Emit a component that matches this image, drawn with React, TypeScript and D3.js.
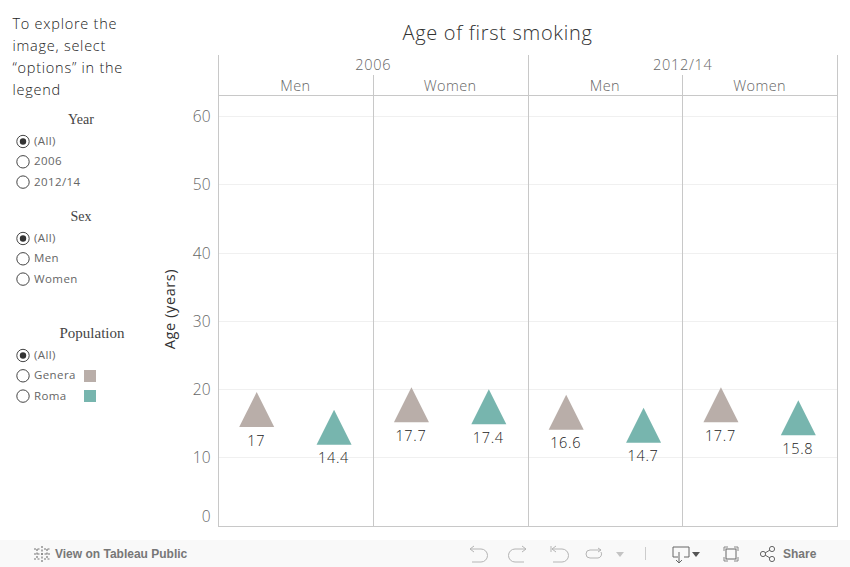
import React from "react";
import * as d3 from "d3";

const years = ["2006", "2012/14"];
const sexes = ["Men", "Women"];
const populations = ["Genera", "Roma"];
const values = [17, 14.4, 17.7, 17.4, 16.6, 14.7, 17.7, 15.8];
const valueLabels = ["17", "14.4", "17.7", "17.4", "16.6", "14.7", "17.7", "15.8"];
const yTicks = [0, 10, 20, 30, 40, 50, 60];
const popColors = ["#b9aea9", "#77b5ae"];
const introLines = ["To explore the", "image, select", "“options” in the", "legend"];
const filterYear = ["(All)", "2006", "2012/14"];
const filterSex = ["(All)", "Men", "Women"];
const filterPop = ["(All)", "Genera", "Roma"];

const FONT = "'Open Sans', sans-serif";
const SERIF = "'Liberation Serif', serif";

const Radio = ({ x, y, label, on }: { x: number; y: number; label: string; on?: boolean }) => (
  <g>
    <circle cx={x} cy={y} r={6.2} fill="#fff" stroke="#444" strokeWidth={1} />
    {on && <circle cx={x} cy={y} r={3.2} fill="#333" />}
    <text x={x + 11} y={y + 3.5} fontSize={11.5} fontWeight={400} letterSpacing={0.4} fontFamily={FONT} fill="#666">{label}</text>
  </g>
);

export default function App() {
  const y = d3.scaleLinear().domain([0, 63]).range([525.5, 95.8]);
  const col = d3.scaleBand<number>().domain(d3.range(4)).range([218, 837]);
  const sub = d3.scaleBand<number>().domain([0, 1]).range([0, col.bandwidth()]);
  const tri = d3.symbol().type({
    draw(ctx: any) {
      ctx.moveTo(0, -17.5);
      ctx.lineTo(17.5, 17.5);
      ctx.lineTo(-17.5, 17.5);
      ctx.closePath();
    },
  } as any)();
  const line = "#c8c8c8";
  const tool = "#b5b5b5";
  return (
    <svg width={850} height={567} style={{ position: "fixed", left: 0, top: 0, background: "#fff" }}>
      {introLines.map((t, i) => (
        <text key={t} x={12.5} y={29 + i * 22} fontSize={14.5} fontWeight={300} letterSpacing={0.75} fontFamily={FONT} fill="#222">{t}</text>
      ))}
      <text x={81} y={124} textAnchor="middle" fontSize={14} fontFamily={SERIF} fill="#444">Year</text>
      {filterYear.map((t, i) => <Radio key={t} x={23} y={141.5 + i * 20.3} label={t} on={i === 0} />)}
      <text x={81} y={221} textAnchor="middle" fontSize={14} fontFamily={SERIF} fill="#444">Sex</text>
      {filterSex.map((t, i) => <Radio key={t} x={23} y={238.5 + i * 20.3} label={t} on={i === 0} />)}
      <text x={92} y={338} textAnchor="middle" fontSize={15} fontFamily={SERIF} fill="#444">Population</text>
      {filterPop.map((t, i) => <Radio key={t} x={23} y={355.5 + i * 20.3} label={t} on={i === 0} />)}
      {populations.map((p, i) => <rect key={p} x={84} y={370 + i * 20} width={12} height={12} fill={popColors[i]} />)}

      <text x={497.5} y={40} textAnchor="middle" fontSize={20} fontWeight={300} letterSpacing={0.7} fontFamily={FONT} fill="#333">Age of first smoking</text>

      {yTicks.filter((t) => t > 0).map((t) => (
        <line key={t} x1={218} x2={838} y1={Math.round(y(t)) + 0.5} y2={Math.round(y(t)) + 0.5} stroke="#f0f0f0" />
      ))}
      {yTicks.map((t) => (
        <text key={t} x={211} y={t === 0 ? 522 : y(t) + 6} textAnchor="end" fontSize={15.5} fontWeight={300} letterSpacing={0.3} fontFamily={FONT} fill="#666">{t}</text>
      ))}
      <text transform="translate(175,309) rotate(-90)" textAnchor="middle" fontSize={14.5} fontFamily={FONT} fontWeight={400} letterSpacing={0.6} fill="#333">Age (years)</text>

      <line x1={218} x2={838} y1={95.5} y2={95.5} stroke={line} />
      <line x1={218} x2={838} y1={526.5} y2={526.5} stroke={line} />
      {[0, 2, 4].map((k) => {
        const x = Math.floor(218.5 + (k * 619) / 4) + 0.5;
        return <line key={k} x1={x} x2={x} y1={55} y2={527} stroke={line} />;
      })}
      {[1, 3].map((k) => {
        const x = Math.floor(218.5 + (k * 619) / 4) + 0.5;
        return <line key={k} x1={x} x2={x} y1={75} y2={527} stroke={line} />;
      })}
      {years.map((t, i) => (
        <text key={t} x={218.5 + 154.75 + i * 309.5} y={70} textAnchor="middle" fontSize={14.5} fontWeight={300} letterSpacing={0.7} fontFamily={FONT} fill="#666">{t}</text>
      ))}
      {d3.range(4).map((i) => (
        <text key={i} x={(col(i) as number) + col.bandwidth() / 2} y={91} textAnchor="middle" fontSize={14.5} fontWeight={300} letterSpacing={0.4} fontFamily={FONT} fill="#666">{sexes[i % 2]}</text>
      ))}
      {values.map((v, i) => {
        const cx = (col(Math.floor(i / 2)) as number) + (sub(i % 2) as number) + sub.bandwidth() / 2;
        return (
          <g key={i}>
            <path d={tri as string} transform={`translate(${cx},${y(v)})`} fill={popColors[i % 2]} />
            <text x={cx - 0.5} y={y(v) + 36} textAnchor="middle" fontSize={14.5} fontWeight={300} letterSpacing={0.7} fontFamily={FONT} fill="#222">{valueLabels[i]}</text>
          </g>
        );
      })}

      <rect x={0} y={540} width={850} height={27} fill="#f9f9f9" />
      <g transform="translate(42,554)" stroke="#777" strokeWidth={1.2}>
        {[[0, -8, 0, 8], [-8, 0, 8, 0], [-5, -5, -5, 5], [5, -5, 5, 5], [-8, -5, -2, -5], [2, -5, 8, -5], [-8, 5, -2, 5], [2, 5, 8, 5]].map((a, i) => (
          <line key={i} x1={a[0]} y1={a[1]} x2={a[2]} y2={a[3]} strokeDasharray="2 1.5" />
        ))}
      </g>
      <text x={55} y={558} fontSize={12} fontWeight={700} fontFamily="'Liberation Sans', sans-serif" fill="#777">View on Tableau Public</text>
      <g fill="none" stroke={tool} strokeWidth={1}>
        <path d="M470 549h11a6.5 6.5 0 0 1 0 13h-9M470 549l4-3M470 549l4 3" />
        <path d="M526 549h-11a6.5 6.5 0 0 0 0 13h9M526 549l-4-3M526 549l-4 3" />
        <path d="M551 546v6M552 549h10a6.5 6.5 0 0 1 0 13h-9M552 549l4-3M552 549l4 3" />
        <path d="M601 550h-11a4 4 0 0 0 0 8h8a4 4 0 0 0 3-6M601 550l-3-2M601 550l-3 2" />
        <line x1={645.5} x2={645.5} y1={547} y2={560} stroke="#ccc" />
      </g>
      <path d="M616 552h8l-4 5z" fill="#c4c4c4" />
      <g fill="none" stroke="#666" strokeWidth={1}>
        <path d="M678 557h-5v-10h16v10h-5M679 552v10M676 560l3 3 3-3" />
        <rect x={726} y={549} width={10} height={10} />
        <path d="M724 551v-4h4M738 551v-4h-4M724 557v4h4M738 557v4h-4" stroke="#888" />
        <circle cx={763} cy={554} r={2.6} />
        <circle cx={772} cy={549} r={2.6} />
        <circle cx={772} cy={559} r={2.6} />
        <path d="M765 553l5-3M765 555l5 3" />
      </g>
      <path d="M692 552h8l-4 5z" fill="#555" />
      <text x={783} y={558} fontSize={12} fontWeight={700} fontFamily="'Liberation Sans', sans-serif" fill="#777">Share</text>
    </svg>
  );
}
